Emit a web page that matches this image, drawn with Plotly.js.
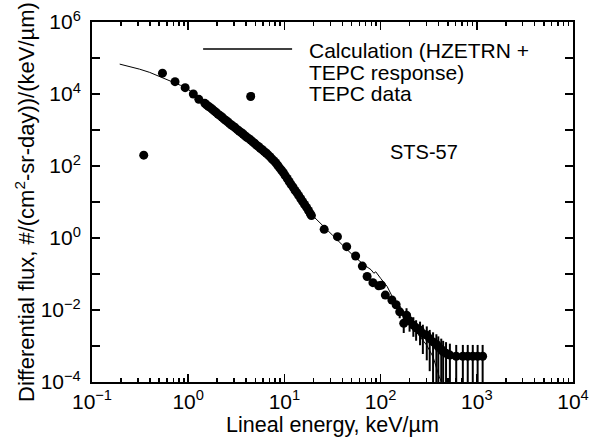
<!DOCTYPE html>
<html>
<head>
<meta charset="utf-8">
<script src="https://cdn.plot.ly/plotly-3.0.1.min.js"></script>
<style>html,body{margin:0;padding:0;background:#fff;}#chart{width:597px;height:443px;}</style>
</head>
<body>
<div id="chart"></div>
<script>
// Calculation (HZETRN + TEPC response)
var calcX = [0.194, 0.251, 0.312, 0.398, 0.462, 0.562, 0.686, 0.832, 1.0, 1.26, 1.58, 2.0, 2.51, 3.16, 3.98, 5.01, 6.31, 7.94, 10.0, 12.6, 15.8, 20.0, 25.1, 31.6, 41.7, 52.5, 67.6, 79.4, 85.1, 89.1, 100, 117, 135, 148, 186, 219, 257, 302, 351, 407, 447];
var calcY = [67600, 57500, 49000, 39800, 33900, 27500, 21900, 17400, 13500, 8300, 4900, 2950, 1820, 1120, 676, 407, 245, 135, 60, 24, 9.5, 4.0, 2.14, 1.2, 0.575, 0.316, 0.178, 0.132, 0.105, 0.115, 0.076, 0.045, 0.021, 0.0123, 0.0052, 0.0032, 0.0018, 0.00105, 0.0005, 0.00014, 0.00008];

// TEPC data
var tepcX = [0.345, 0.54, 0.73, 0.93, 1.13, 1.29, 1.49, 4.46,
  1.55, 1.62, 1.70, 1.78, 1.86, 1.95, 2.04, 2.14, 2.24, 2.34, 2.45, 2.57, 2.69, 2.82, 2.95, 3.09, 3.24, 3.39, 3.55, 3.72, 3.89, 4.07, 4.27, 4.47, 4.68, 4.90, 5.13, 5.37, 5.62, 5.89, 6.17, 6.46, 6.76, 7.08, 7.41, 7.76, 8.13, 8.51, 8.91, 9.33, 9.77, 10.2, 10.7, 11.2, 11.7, 12.3, 12.9, 13.5, 14.1, 14.8, 15.5, 16.2, 17.0, 17.8, 18.6, 19.1,
  25.9, 35.6, 44.4, 55.0, 64.6, 72.4, 83.2, 95.5, 102, 112, 131, 145,
  158, 174, 186, 200, 219, 234, 257, 275, 302, 324, 351, 380, 398, 427, 447, 479, 525, 611, 716, 805, 908, 1020, 1150];
var tepcY = [200, 38000, 22000, 15000, 10000, 7100, 5500, 8500,
  5000, 4570, 4170, 3800, 3390, 3090, 2750, 2510, 2290, 2040, 1860, 1700, 1510, 1380, 1260, 1150, 1020, 933, 851, 776, 692, 631, 575, 525, 468, 427, 380, 347, 309, 282, 251, 229, 204, 182, 158, 141, 123, 105, 89, 76, 65, 54, 45, 37, 31, 26, 21, 18, 15, 12.3, 10.2, 8.5, 7.1, 5.8, 4.7, 4.2,
  1.74, 1.09, 0.575, 0.316, 0.166, 0.085, 0.0575, 0.047, 0.049, 0.026, 0.019, 0.014,
  0.0089, 0.0043, 0.0072, 0.005, 0.0038, 0.0032, 0.00275, 0.0022, 0.002, 0.0016, 0.0013, 0.00112, 0.00095, 0.0008, 0.00069, 0.00063, 0.00056, 0.00052, 0.00052, 0.00052, 0.00052, 0.00052, 0.00052];
var tepcErrPlus = [0, 0, 0, 0, 0, 0, 0, 0,
  0, 0, 0, 0, 0, 0, 0, 0, 0, 0, 0, 0, 0, 0, 0, 0, 0, 0, 0, 0, 0, 0, 0, 0, 0, 0, 0, 0, 0, 0, 0, 0, 0, 0, 0, 0, 0, 0, 0, 0, 0, 0, 0, 0, 0, 0, 0, 0, 0, 0, 0, 0, 0, 0, 0, 0,
  0, 0, 0, 0, 0, 0, 0, 0, 0, 0, 0, 0,
  0.004, 0.003, 0.004, 0.003, 0.0025, 0.002, 0.002, 0.0017, 0.0015, 0.0012, 0.0011, 0.001, 0.0009, 0.0008, 0.0007, 0.00065, 0.0006, 0.00055, 0.00055, 0.00055, 0.00055, 0.00055, 0.00055];
var tepcErrMinus = [0, 0, 0, 0, 0, 0, 0, 0,
  0, 0, 0, 0, 0, 0, 0, 0, 0, 0, 0, 0, 0, 0, 0, 0, 0, 0, 0, 0, 0, 0, 0, 0, 0, 0, 0, 0, 0, 0, 0, 0, 0, 0, 0, 0, 0, 0, 0, 0, 0, 0, 0, 0, 0, 0, 0, 0, 0, 0, 0, 0, 0, 0, 0, 0,
  0, 0, 0, 0, 0, 0, 0, 0, 0, 0, 0, 0,
  0.003, 0.002, 0.003, 0.0025, 0.002, 0.0018, 0.0017, 0.0016, 0.0016, 0.0014, 0.00125, 0.00108, 0.00092, 0.00077, 0.00066, 0.0006, 0.00054, 0.0005, 0.0005, 0.0005, 0.0005, 0.0005, 0.0005];

var xTickVals = [0.1, 1, 10, 100, 1000, 10000];
var xTickText = ['10<sup>\u22121</sup>', '10<sup>0</sup>', '10<sup>1</sup>', '10<sup>2</sup>', '10<sup>3</sup>', '10<sup>4</sup>'];
var yTickVals = [1e-4, 1e-3, 1e-2, 1e-1, 1, 10, 100, 1e3, 1e4, 1e5, 1e6];
var yTickText = ['10<sup>\u22124</sup>', '', '10<sup>\u22122</sup>', '', '10<sup>0</sup>', '', '10<sup>2</sup>', '', '10<sup>4</sup>', '', '10<sup>6</sup>'];

var minorX = [];
for (var d = -1; d < 4; d++) { for (var m = 2; m <= 9; m++) { minorX.push(m * Math.pow(10, d)); } }

var FONT = 'Liberation Sans, Arial, Helvetica, sans-serif';

var traces = [
  {x: calcX, y: calcY, type: 'scatter', mode: 'lines', name: 'Calculation (HZETRN + TEPC response)',
   line: {color: '#000', width: 1}, showlegend: false},
  {x: tepcX, y: tepcY, type: 'scatter', mode: 'markers', name: 'TEPC data',
   marker: {color: '#000', size: 9}, showlegend: false,
   error_y: {type: 'data', symmetric: false, array: tepcErrPlus, arrayminus: tepcErrMinus, color: '#000', thickness: 2, width: 0}}
];

var layout = {
  width: 597, height: 443,
  margin: {l: 92, r: 24, t: 22, b: 61},
  paper_bgcolor: '#fff', plot_bgcolor: '#fff',
  font: {family: FONT, color: '#000', size: 21},
  showlegend: false,
  xaxis: {type: 'log', range: [-1, 4], showgrid: false, zeroline: false,
    showline: true, linecolor: '#000', linewidth: 2, mirror: 'ticks',
    ticks: 'inside', ticklen: 8, tickwidth: 1.5, tickcolor: '#000',
    tickmode: 'array', tickvals: xTickVals, ticktext: xTickText,
    tickfont: {size: 21, family: FONT},
    minor: {tickmode: 'array', tickvals: minorX, ticks: 'inside', ticklen: 4, tickwidth: 1.5, tickcolor: '#000', showgrid: false},
    title: {text: 'Lineal energy, keV/\u00b5m', font: {size: 21.5, family: FONT}, standoff: 2}},
  yaxis: {type: 'log', range: [-4, 6], showgrid: false, zeroline: false,
    showline: true, linecolor: '#000', linewidth: 2, mirror: 'ticks',
    ticks: 'inside', ticklen: 8, tickwidth: 1.5, tickcolor: '#000',
    tickmode: 'array', tickvals: yTickVals, ticktext: yTickText,
    tickfont: {size: 21, family: FONT}, ticklabelstandoff: 5,
    title: {text: 'Differential flux, #/(cm<sup>2</sup>-sr-day))/(keV/\u00b5m)', font: {size: 22, family: FONT}, standoff: 0}},
  shapes: [
    {type: 'line', xref: 'paper', yref: 'paper', x0: 0.231, x1: 0.416, y0: 0.925, y1: 0.925, line: {color: '#000', width: 1.5}},
    {type: 'circle', xref: 'paper', yref: 'paper', x0: 0.3255, x1: 0.3385, y0: 0.788, y1: 0.805, fillcolor: '#000', line: {color: '#000', width: 0}}
  ],
  annotations: [
    {xref: 'paper', yref: 'paper', x: 0.446, y: 0.922, xanchor: 'left', yanchor: 'middle', showarrow: false, text: 'Calculation (HZETRN +', font: {size: 21, family: FONT}},
    {xref: 'paper', yref: 'paper', x: 0.446, y: 0.861, xanchor: 'left', yanchor: 'middle', showarrow: false, text: 'TEPC response)', font: {size: 21, family: FONT}},
    {xref: 'paper', yref: 'paper', x: 0.446, y: 0.800, xanchor: 'left', yanchor: 'middle', showarrow: false, text: 'TEPC data', font: {size: 21, family: FONT}},
    {xref: 'paper', yref: 'paper', x: 0.69, y: 0.639, xanchor: 'center', yanchor: 'middle', showarrow: false, text: 'STS-57', font: {size: 20, family: FONT}}
  ]
};

Plotly.newPlot('chart', traces, layout, {displayModeBar: false, staticPlot: true});
</script>
</body>
</html>
